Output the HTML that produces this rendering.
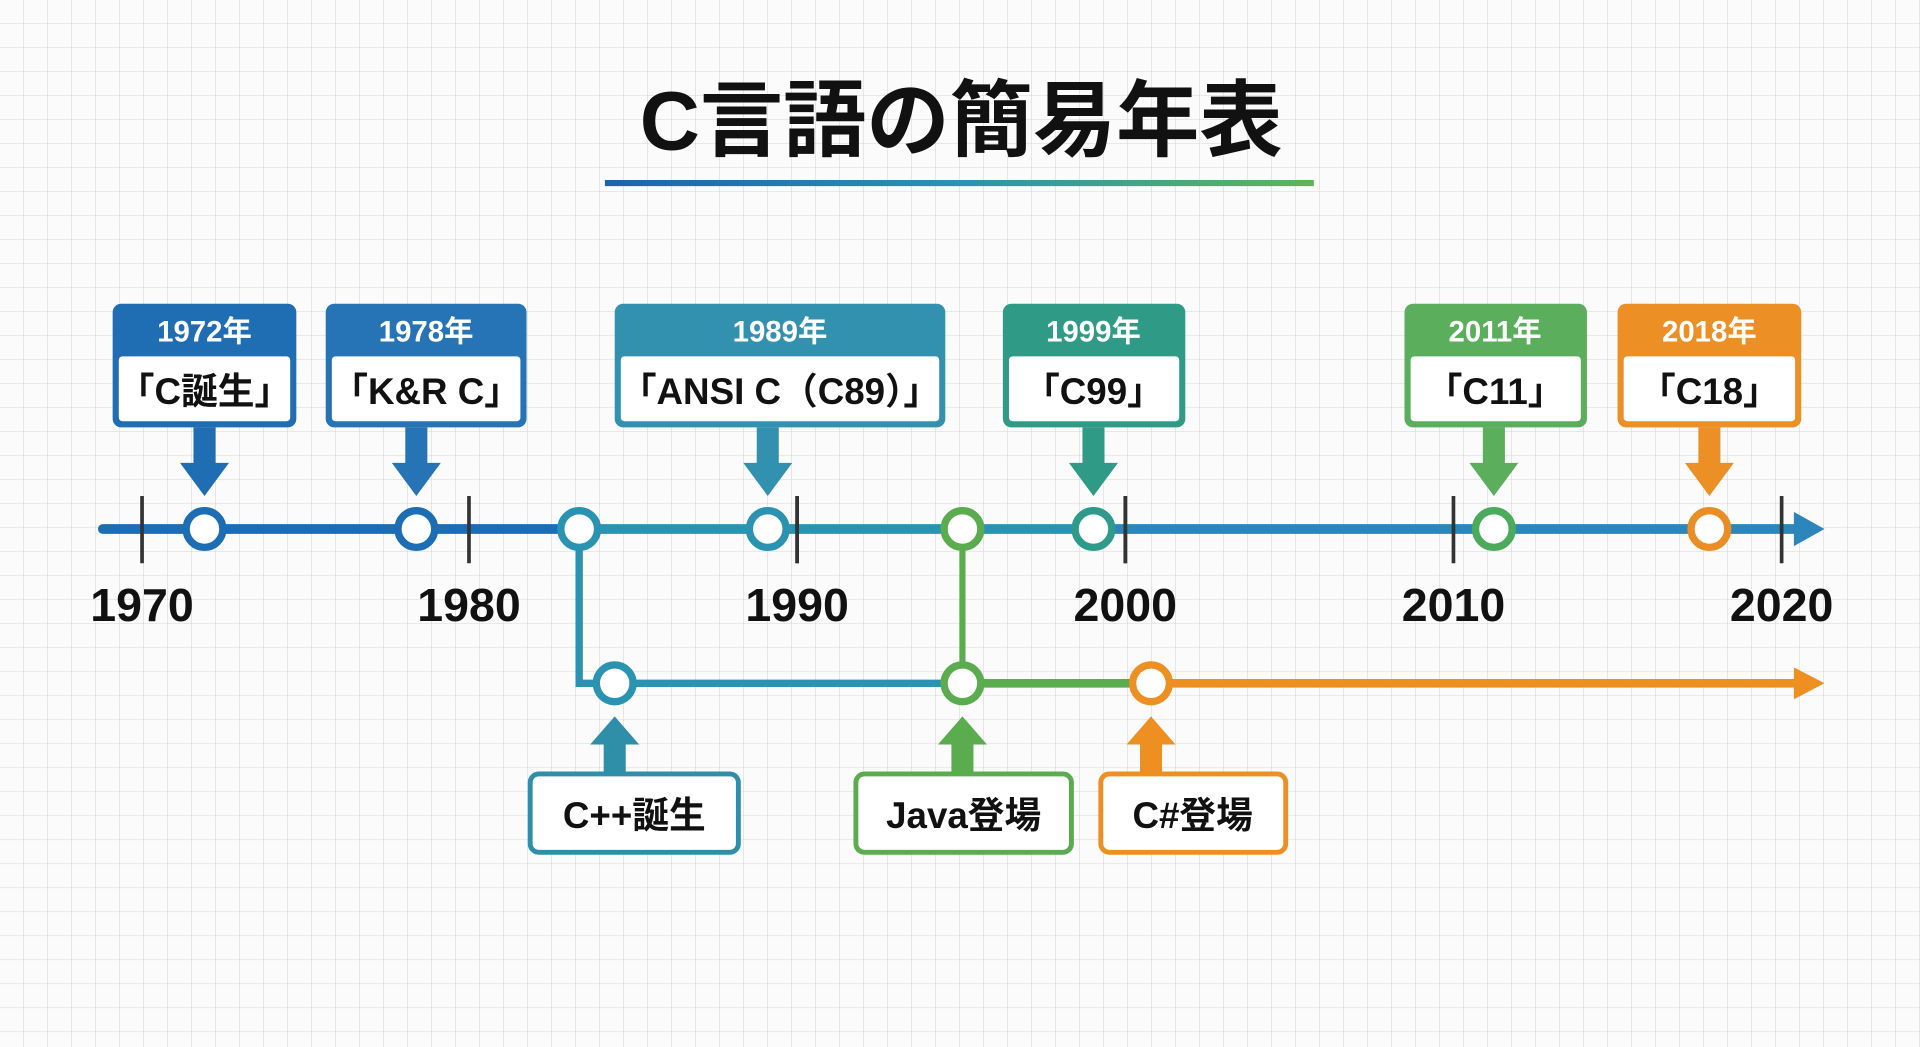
<!DOCTYPE html>
<html><head><meta charset="utf-8"><style>
html,body{margin:0;padding:0;background:#fbfbfb;}
svg{display:block}
text{font-family:"Liberation Sans","Noto Sans CJK JP",sans-serif;font-weight:bold;}
</style></head><body>
<svg width="1920" height="1047" viewBox="0 0 1568 855" preserveAspectRatio="none" xmlns="http://www.w3.org/2000/svg">
<defs>
<pattern id="g" width="19.6" height="19.6" patternUnits="userSpaceOnUse">
<path d="M19.6 0V19.6H0" fill="none" stroke="#d4d4d4" stroke-width="0.9"/>
</pattern>
<linearGradient id="ul" x1="0" x2="1"><stop offset="0" stop-color="#1d62ad"/><stop offset="0.5" stop-color="#2a93b0"/><stop offset="1" stop-color="#5db55a"/></linearGradient>
</defs>
<rect width="1568" height="855" fill="#fbfbfb"/>
<rect width="1568" height="855" fill="url(#g)"/>
<text x="785" y="122" font-size="68" text-anchor="middle" fill="#111">C言語の簡易年表</text>
<rect x="494" y="147" width="579" height="5" fill="url(#ul)"/>

<line x1="84" y1="432" x2="465" y2="432" stroke="#1c6db4" stroke-width="8" stroke-linecap="round"/>
<line x1="465" y1="432" x2="900" y2="432" stroke="#2b93b2" stroke-width="8"/>
<line x1="900" y1="432" x2="1470" y2="432" stroke="#2c85bb" stroke-width="8"/>
<polygon points="1465,418 1490,432 1465,446" fill="#2c85bb"/>
<g stroke="#333" stroke-width="3">
<line x1="116" y1="405" x2="116" y2="460"/><line x1="383" y1="405" x2="383" y2="460"/>
<line x1="651" y1="405" x2="651" y2="460"/><line x1="919" y1="405" x2="919" y2="460"/>
<line x1="1187" y1="405" x2="1187" y2="460"/><line x1="1455" y1="405" x2="1455" y2="460"/>
</g>
<g font-size="38" fill="#111" text-anchor="middle">
<text x="116" y="507">1970</text><text x="383" y="507">1980</text><text x="651" y="507">1990</text>
<text x="919" y="507">2000</text><text x="1187" y="507">2010</text><text x="1455" y="507">2020</text>
</g>

<path d="M473,432V558H786" fill="none" stroke="#2b93b2" stroke-width="6"/>
<line x1="786" y1="432" x2="786" y2="558" stroke="#5aac4e" stroke-width="5"/>
<line x1="786" y1="558" x2="940" y2="558" stroke="#5aac4e" stroke-width="7"/>
<line x1="940" y1="558" x2="1470" y2="558" stroke="#ee8f22" stroke-width="7"/>
<polygon points="1465,545 1490,558 1465,571" fill="#ee8f22"/>

<g>
<rect x="92" y="248" width="150" height="101" rx="7" fill="#1f6db3"/><rect x="97" y="291" width="140" height="53" rx="3" fill="#fff"/>
<rect x="158" y="349" width="18" height="30" fill="#1f6db3"/><polygon points="147,378 187,378 167,405" fill="#1f6db3"/>
<text x="167" y="279" font-size="24" fill="#fff" text-anchor="middle">1972年</text>
<text x="167" y="330" font-size="30" fill="#111" text-anchor="middle">「C誕生」</text>

<rect x="266" y="248" width="164" height="101" rx="7" fill="#2673b5"/><rect x="271" y="291" width="154" height="53" rx="3" fill="#fff"/>
<rect x="331" y="349" width="18" height="30" fill="#2673b5"/><polygon points="320,378 360,378 340,405" fill="#2673b5"/>
<text x="348" y="279" font-size="24" fill="#fff" text-anchor="middle">1978年</text>
<text x="348" y="330" font-size="30" fill="#111" text-anchor="middle">「K&amp;R C」</text>

<rect x="502" y="248" width="270" height="101" rx="7" fill="#3391b0"/><rect x="507" y="291" width="260" height="53" rx="3" fill="#fff"/>
<rect x="618" y="349" width="18" height="30" fill="#3391b0"/><polygon points="607,378 647,378 627,405" fill="#3391b0"/>
<text x="637" y="279" font-size="24" fill="#fff" text-anchor="middle">1989年</text>
<text x="637" y="330" font-size="30" fill="#111" text-anchor="middle">「ANSI C（C89）」</text>

<rect x="819" y="248" width="149" height="101" rx="7" fill="#2f9a85"/><rect x="824" y="291" width="139" height="53" rx="3" fill="#fff"/>
<rect x="884" y="349" width="18" height="30" fill="#2f9a85"/><polygon points="873,378 913,378 893,405" fill="#2f9a85"/>
<text x="893" y="279" font-size="24" fill="#fff" text-anchor="middle">1999年</text>
<text x="893" y="330" font-size="30" fill="#111" text-anchor="middle">「C99」</text>

<rect x="1147" y="248" width="149" height="101" rx="7" fill="#5aae5c"/><rect x="1152" y="291" width="139" height="53" rx="3" fill="#fff"/>
<rect x="1211" y="349" width="18" height="30" fill="#5aae5c"/><polygon points="1200,378 1240,378 1220,405" fill="#5aae5c"/>
<text x="1221" y="279" font-size="24" fill="#fff" text-anchor="middle">2011年</text>
<text x="1221" y="330" font-size="30" fill="#111" text-anchor="middle">「C11」</text>

<rect x="1321" y="248" width="150" height="101" rx="7" fill="#ec8f25"/><rect x="1326" y="291" width="140" height="53" rx="3" fill="#fff"/>
<rect x="1387" y="349" width="18" height="30" fill="#ec8f25"/><polygon points="1376,378 1416,378 1396,405" fill="#ec8f25"/>
<text x="1396" y="279" font-size="24" fill="#fff" text-anchor="middle">2018年</text>
<text x="1396" y="330" font-size="30" fill="#111" text-anchor="middle">「C18」</text>
</g>

<g fill="#fff" stroke-width="6">
<circle cx="167" cy="432" r="15" stroke="#1c6db4"/>
<circle cx="340" cy="432" r="15" stroke="#1c6db4"/>
<circle cx="473" cy="432" r="15" stroke="#2b93b2"/>
<circle cx="627" cy="432" r="15" stroke="#2b93b2"/>
<circle cx="786" cy="432" r="15" stroke="#5aac4e"/>
<circle cx="893" cy="432" r="15" stroke="#2e9a8a"/>
<circle cx="1220" cy="432" r="15" stroke="#4caa5c"/>
<circle cx="1396" cy="432" r="15" stroke="#ea8d24"/>
<circle cx="502" cy="558" r="15" stroke="#2b93b2"/>
<circle cx="786" cy="558" r="15" stroke="#5aac4e"/>
<circle cx="940" cy="558" r="15" stroke="#ee8f22"/>
</g>
<g stroke="#333" stroke-width="3"><line x1="651" y1="405" x2="651" y2="460"/><line x1="919" y1="405" x2="919" y2="460"/></g>

<g>
<polygon points="502,585 482,608 522,608" fill="#2f8fa8"/><rect x="493" y="607" width="18" height="26" fill="#2f8fa8"/>
<rect x="433" y="632" width="170" height="64" rx="7" fill="#fff" stroke="#2f8fa8" stroke-width="4"/>
<text x="518" y="676" font-size="30" fill="#111" text-anchor="middle">C++誕生</text>

<polygon points="786,585 766,608 806,608" fill="#5aac4e"/><rect x="777" y="607" width="18" height="26" fill="#5aac4e"/>
<rect x="699" y="632" width="176" height="64" rx="7" fill="#fff" stroke="#5aac4e" stroke-width="4"/>
<text x="787" y="676" font-size="30" fill="#111" text-anchor="middle">Java登場</text>

<polygon points="940,585 920,608 960,608" fill="#ee8f22"/><rect x="931" y="607" width="18" height="26" fill="#ee8f22"/>
<rect x="899" y="632" width="151" height="64" rx="7" fill="#fff" stroke="#ee8f22" stroke-width="4"/>
<text x="974" y="676" font-size="30" fill="#111" text-anchor="middle">C#登場</text>
</g>
</svg>
</body></html>
